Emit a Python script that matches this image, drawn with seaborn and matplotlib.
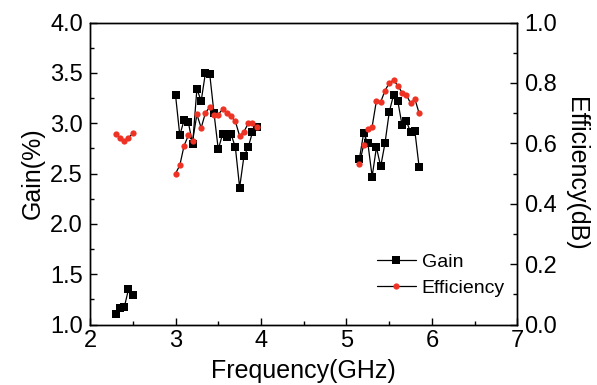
import numpy as np
import pandas as pd
import matplotlib
matplotlib.use("Agg")
import matplotlib.pyplot as plt
from matplotlib.ticker import MultipleLocator, FormatStrFormatter
from matplotlib.lines import Line2D
import seaborn as sns

# Measured frequencies (GHz) for the three operating bands
freq_low = [2.30, 2.35, 2.40, 2.45, 2.50]
freq_mid = [3.00, 3.05, 3.10, 3.15, 3.20, 3.25, 3.30, 3.35, 3.40, 3.45,
            3.50, 3.55, 3.60, 3.65, 3.70, 3.75, 3.80, 3.85, 3.90, 3.95]
freq_high = [5.15, 5.20, 5.25, 5.30, 5.35, 5.40, 5.45, 5.50, 5.55, 5.60,
             5.65, 5.70, 5.75, 5.80, 5.85]

# Gain per band
gain_low = [1.10, 1.16, 1.17, 1.35, 1.29]
gain_mid = [3.28, 2.88, 3.03, 3.01, 2.79, 3.34, 3.22, 3.50, 3.49, 3.10,
            2.74, 2.89, 2.86, 2.89, 2.76, 2.36, 2.67, 2.76, 2.91, 2.96]
gain_high = [2.64, 2.90, 2.80, 2.47, 2.76, 2.57, 2.80, 3.11, 3.28, 3.22,
             2.98, 3.02, 2.91, 2.92, 2.56]

# Efficiency per band
eff_low = [0.630, 0.617, 0.608, 0.618, 0.633]
eff_mid = [0.500, 0.527, 0.592, 0.626, 0.608, 0.696, 0.651, 0.701, 0.720, 0.693,
           0.695, 0.713, 0.700, 0.689, 0.673, 0.624, 0.638, 0.666, 0.666, 0.655]
eff_high = [0.531, 0.594, 0.647, 0.655, 0.741, 0.737, 0.774, 0.800, 0.809, 0.791,
            0.768, 0.761, 0.732, 0.747, 0.699]

frames = []
for band, f, g, e in [("low", freq_low, gain_low, eff_low),
                      ("mid", freq_mid, gain_mid, eff_mid),
                      ("high", freq_high, gain_high, eff_high)]:
    frames.append(pd.DataFrame({"band": band, "freq": f, "gain": g, "eff": e}))
df = pd.concat(frames, ignore_index=True)

sns.set_style("ticks")
plt.rcParams["font.family"] = ["Liberation Sans", "DejaVu Sans"]
plt.rcParams["xtick.direction"] = "in"
plt.rcParams["ytick.direction"] = "in"
plt.rcParams["text.color"] = "black"
plt.rcParams["axes.labelcolor"] = "black"
plt.rcParams["xtick.color"] = "black"
plt.rcParams["ytick.color"] = "black"

RED = "#ee3224"
TICK_FS = 17
LABEL_FS = 18

fig = plt.figure(figsize=(5.97, 3.85), dpi=100)
ax = fig.add_axes([0.1508, 0.1571, 0.716, 0.7844])
ax2 = ax.twinx()

sns.lineplot(data=df, x="freq", y="gain", units="band", estimator=None,
             sort=False, color="black", marker="s", markersize=6,
             markeredgewidth=0, linewidth=0.9, ax=ax, legend=False)
sns.lineplot(data=df, x="freq", y="eff", units="band", estimator=None,
             sort=False, color="black", marker="o", markersize=4.5,
             markerfacecolor=RED, markeredgewidth=0, linewidth=0.9, ax=ax2,
             legend=False)

ax.set_xlim(2, 7)
ax.set_ylim(1.0, 4.0)
ax2.set_ylim(0.0, 1.0)

ax.xaxis.set_major_locator(MultipleLocator(1))
ax.xaxis.set_minor_locator(MultipleLocator(0.5))
ax.yaxis.set_major_locator(MultipleLocator(0.5))
ax.yaxis.set_minor_locator(MultipleLocator(0.25))
ax2.yaxis.set_major_locator(MultipleLocator(0.2))
ax2.yaxis.set_minor_locator(MultipleLocator(0.1))
ax.yaxis.set_major_formatter(FormatStrFormatter("%.1f"))
ax2.yaxis.set_major_formatter(FormatStrFormatter("%.1f"))

for a in (ax, ax2):
    a.tick_params(which="major", length=5, width=1, labelsize=TICK_FS, pad=5)
    a.tick_params(which="minor", length=3, width=1)
    for s in a.spines.values():
        s.set_visible(True)
        s.set_linewidth(1.0)
        s.set_color("black")
ax.tick_params(axis="x", which="major", pad=4)
ax.tick_params(axis="y", which="both", right=False)
ax.tick_params(axis="x", which="both", top=False)

ax.set_xlabel("Frequency(GHz)", fontsize=LABEL_FS, labelpad=5)
ax.set_ylabel("Gain(%)", fontsize=LABEL_FS, labelpad=4)
ax2.set_ylabel("Efficiency(dB)", fontsize=LABEL_FS, rotation=270, labelpad=22)

handles = [
    Line2D([], [], color="black", marker="s", markersize=6, markeredgewidth=0,
           linewidth=0.9),
    Line2D([], [], color="black", marker="o", markersize=4.5,
           markerfacecolor=RED, markeredgewidth=0, linewidth=0.9),
]
ax.legend(handles, ["Gain", "Efficiency"], loc="upper left",
          bbox_to_anchor=(0.63, 0.295), frameon=False, fontsize=14,
          handlelength=2.0, handletextpad=0.3, labelspacing=0.45)

fig.savefig("out.png", dpi=100)
